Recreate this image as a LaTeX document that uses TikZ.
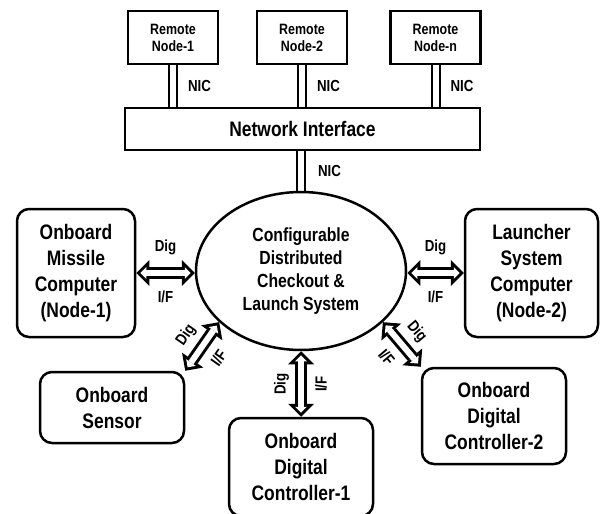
\documentclass[tikz,border=0pt]{standalone}
\usepackage{fontspec}
\setmainfont{Liberation Sans}[FakeStretch=0.83]
\usetikzlibrary{arrows.meta,shapes.geometric,backgrounds}

\tikzset{
  remote/.style={draw, line width=2.5pt, inner sep=0pt, minimum width=90pt, minimum height=53pt, align=center, font=\fontsize{15}{17}\selectfont\bfseries},
  unit/.style={draw, line width=2.5pt, rounded corners=12pt, inner sep=0pt, align=center, font=\fontsize{21}{26}\selectfont\bfseries},
  nic/.style={double, double distance=6pt, line width=2pt},
  tag/.style={inner sep=0pt, font=\fontsize{16}{18}\selectfont\bfseries},
  bus/.style={draw=white, line width=6pt, shorten <=4.2pt, shorten >=4.2pt,
    {Triangle[length=5.8pt,width=11.6pt,line width=0pt]}-{Triangle[length=5.8pt,width=11.6pt,line width=0pt]},
    preaction={draw=black, line width=12pt, shorten <=0pt, shorten >=0pt,
      {Triangle[length=13pt,width=26pt,line width=0pt]}-{Triangle[length=13pt,width=26pt,line width=0pt]}}}
}

\begin{document}
\begin{tikzpicture}[x=1pt, y=-1pt]
  \useasboundingbox (0,0) rectangle (601,513);
  \clip (0,0) rectangle (601,513);

  % Remote nodes
  \node[remote] (r1) at (173,37.5) {Remote\\Node-1};
  \node[remote] (r2) at (302,37.5) {Remote\\Node-2};
  \node[remote] (rn) at (435.5,37.5) {Remote\\Node-n};

  % Network interface bar
  \node[draw, line width=2.5pt, minimum width=355pt, minimum height=42pt, inner sep=0pt,
        font=\fontsize{21}{24}\selectfont\bfseries] (nif) at (302.5,129) {Network Interface};

  % Checkout system
  \node[ellipse, draw, line width=2.5pt, minimum width=210pt, minimum height=158pt, inner sep=0pt,
        align=center, font=\fontsize{19}{23}\selectfont\bfseries] (cdl) at (301,271)
        {Configurable\\Distributed\\Checkout \&\\Launch System};

  % Onboard and launcher units
  \node[unit, minimum width=118pt, minimum height=128pt] (missile) at (76,273) {Onboard\\Missile\\Computer\\(Node-1)};
  \node[unit, minimum width=133pt, minimum height=128pt] (launcher) at (531.5,273) {Launcher\\System\\Computer\\(Node-2)};
  \node[unit, minimum width=144pt, minimum height=71pt] (sensor) at (112,407.5) {Onboard\\Sensor};
  \node[unit, minimum width=144pt, minimum height=96pt] (ctrl2) at (494,416) {Onboard\\Digital\\Controller-2};
  \node[unit, minimum width=144pt, minimum height=98pt] (ctrl1) at (301,467) {Onboard\\Digital\\Controller-1};

  \begin{scope}[on background layer]
    % NIC links
    \draw[nic] (r1.south) -- (r1.south |- nif.north) node[tag, midway, right=14pt] {NIC};
    \draw[nic] (r2.south) -- (r2.south |- nif.north) node[tag, midway, right=14pt] {NIC};
    \draw[nic] (rn.south) -- (rn.south |- nif.north) node[tag, midway, right=14pt] {NIC};
    \draw[nic] (cdl.north) -- (cdl.north |- nif.south) node[tag, midway, right=16pt] {NIC};

    % Digital interfaces
    \draw[bus] (missile.east) -- (missile.east -| cdl.west)
      node[tag, midway, above=15pt] {Dig} node[tag, midway, below=15pt] {I/F};
    \draw[bus] (launcher.west) -- (launcher.west -| cdl.east)
      node[tag, midway, above=15pt] {Dig} node[tag, midway, below=15pt] {I/F};
    \draw[bus] (sensor.north east) -- (cdl.212)
      node[tag, midway, sloped, above=9pt] {Dig} node[tag, midway, sloped, below=11pt] {I/F};
    \draw[bus] (ctrl1.north) -- (cdl.south)
      node[tag, midway, sloped, above=9pt] {Dig} node[tag, midway, sloped, below=11pt] {I/F};
    \draw[bus] (cdl.328) -- (ctrl2.north west)
      node[tag, midway, sloped, above=9pt] {Dig} node[tag, midway, sloped, below=11pt] {I/F};
  \end{scope}
\end{tikzpicture}
\end{document}
